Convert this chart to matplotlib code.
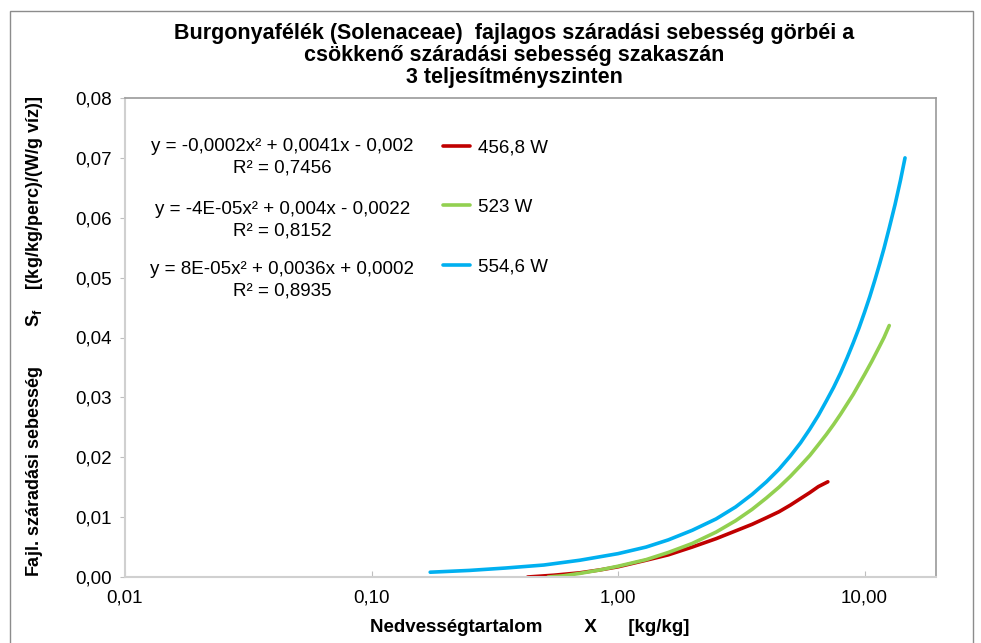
import matplotlib.pyplot as plt
from matplotlib.patches import Rectangle
from matplotlib.ticker import FixedLocator, FuncFormatter

plt.rcParams['font.family'] = ['Liberation Sans', 'DejaVu Sans']
plt.rcParams['mathtext.fontset'] = 'custom'
plt.rcParams['mathtext.rm'] = 'Liberation Sans'
plt.rcParams['mathtext.bf'] = 'Liberation Sans:bold'
plt.rcParams['mathtext.it'] = 'Liberation Sans:italic'

# ======================================================================================================================
# values (X in kg/kg, Sf)
x_red = [0.43, 0.55, 0.7, 0.85, 1.0, 1.3, 1.6, 2.0, 2.5, 3.0, 3.5, 4.0, 4.5, 5.0, 5.5, 6.0, 6.5, 7.1]
y_red = [0.0, 0.0003, 0.0007, 0.0012, 0.0017, 0.0028, 0.0037, 0.0050, 0.0064, 0.0077, 0.0088, 0.0099, 0.0109, 0.0120,
         0.0131, 0.0141, 0.0151, 0.0159]

x_green = [0.52, 0.6, 0.7, 0.85, 1.0, 1.3, 1.6, 2.0, 2.5, 3.0, 3.5, 4.0, 4.5, 5.0, 5.5, 6.0, 6.5, 7.0, 7.5, 8.0, 8.5, 9.0,
           9.5, 10.0, 10.7, 11.5, 12.0, 12.6]
y_green = [0.0, 0.0002, 0.0006, 0.0012, 0.0018, 0.0029, 0.0041, 0.0056, 0.0075, 0.0094, 0.0113, 0.0132, 0.0150, 0.0168,
           0.0186, 0.0203, 0.0221, 0.0238, 0.0255, 0.0272, 0.0289, 0.0305, 0.0322, 0.0338, 0.0360, 0.0385, 0.0400, 0.0420]

x_blue = [0.173, 0.25, 0.35, 0.5, 0.7, 1.0, 1.3, 1.6, 2.0, 2.5, 3.0, 3.5, 4.0, 4.5, 5.0, 5.5, 6.0, 6.5, 7.0, 7.5, 8.0, 8.5,
          9.0, 9.5, 10.0, 10.5, 11.0, 11.5, 12.0, 12.6, 13.3, 14.0, 14.6]
y_blue = [0.0008, 0.0011, 0.0015, 0.0020, 0.0028, 0.0039, 0.0050, 0.0062, 0.0078, 0.0097, 0.0117, 0.0138, 0.0159, 0.0180,
          0.0202, 0.0224, 0.0247, 0.0270, 0.0294, 0.0317, 0.0341, 0.0366, 0.0391, 0.0416, 0.0442, 0.0468, 0.0495, 0.0522,
          0.0549, 0.0583, 0.0622, 0.0663, 0.0700]

series_labels = ["456,8 W", "523 W", "554,6 W"]
series_colors = ["#C00000", "#92D050", "#00B0F0"]
equations = ["y = -0,0002x² + 0,0041x - 0,002", "y = -4E-05x² + 0,004x - 0,0022", "y = 8E-05x² + 0,0036x + 0,0002"]
r2_labels = ["R² = 0,7456", "R² = 0,8152", "R² = 0,8935"]
title_lines = ["Burgonyafélék (Solenaceae)  fajlagos száradási sebesség görbéi a",
               "csökkenő száradási sebesség szakaszán", "3 teljesítményszinten"]

x_ticks = [0.01, 0.1, 1, 10]
y_ticks = [0.0, 0.01, 0.02, 0.03, 0.04, 0.05, 0.06, 0.07, 0.08]

# ======================================================================================================================
W, H = 981, 643
fig = plt.figure(figsize=(W / 100, H / 100), dpi=100)
fig.patches.append(Rectangle((10 / W, -0.02), 963 / W, 1 - 11 / H + 0.02, transform=fig.transFigure,
                             fill=False, edgecolor='#8c8c8c', linewidth=1.0))
ax = fig.add_axes([125 / W, 1 - 577 / H, (936 - 125) / W, (577 - 98) / H])

for xs, ys, col, lab in zip([x_red, x_green, x_blue], [y_red, y_green, y_blue], series_colors, series_labels):
    ax.plot(xs, ys, color=col, linewidth=2.6, label=lab, solid_capstyle='round', solid_joinstyle='round')

ax.set_xscale('log')
ax.set_xlim(0.01, 19.5)
ax.set_ylim(0, 0.08)
ax.xaxis.set_major_locator(FixedLocator(x_ticks))
ax.xaxis.set_minor_locator(FixedLocator([]))
ax.xaxis.set_major_formatter(FuncFormatter(lambda v, p: f"{v:.2f}".replace('.', ',')))
ax.yaxis.set_major_locator(FixedLocator(y_ticks))
ax.yaxis.set_major_formatter(FuncFormatter(lambda v, p: f"{v:.2f}".replace('.', ',')))
ax.tick_params(axis='x', direction='in', length=4, color='#bfbfbf', labelsize=13.5, pad=9)
ax.tick_params(axis='y', direction='out', length=3.6, color='#bfbfbf', labelsize=13.5, pad=6)

for side in ['left', 'bottom']:
    ax.spines[side].set_color('#d0d0d0')
    ax.spines[side].set_linewidth(1.5)
for side in ['top', 'right']:
    ax.spines[side].set_color('#9a9a9a')
    ax.spines[side].set_linewidth(1.2)

# trendline equations
eq_y = [0.898, 0.768, 0.643]
for eq, r2, yy in zip(equations, r2_labels, eq_y):
    ax.text(0.194, yy, eq, transform=ax.transAxes, ha='center', va='center', fontsize=13.5)
    ax.text(0.194, yy - 0.045, r2, transform=ax.transAxes, ha='center', va='center', fontsize=13.5)

ax.legend(loc='upper left', bbox_to_anchor=(0.392, 0.914), frameon=False, fontsize=13.5, handlelength=1.45,
          labelspacing=2.27, handletextpad=0.4, borderpad=0, borderaxespad=0)

for i, line in enumerate(title_lines):
    fig.text(514 / W, 1 - (34 + 22 * i) / H, line, ha='center', va='center', fontsize=15.5, fontweight='bold')

ax.set_xlabel("Nedvességtartalom        X      [kg/kg]", fontsize=13.5, fontweight='bold')
ax.xaxis.label.set_va('center')
ax.xaxis.set_label_coords((530 - 125) / 811, (577 - 628) / 479)
ax.set_ylabel("Fajl. száradási sebesség        S$_\\mathbf{f}$    [(kg/kg/perc)/(W/g víz)]", fontsize=13,
              fontweight='bold')
ax.yaxis.label.set_va('center')
ax.yaxis.set_label_coords((35 - 125) / 811, 0.503)

plt.savefig('out.png', dpi=100)
